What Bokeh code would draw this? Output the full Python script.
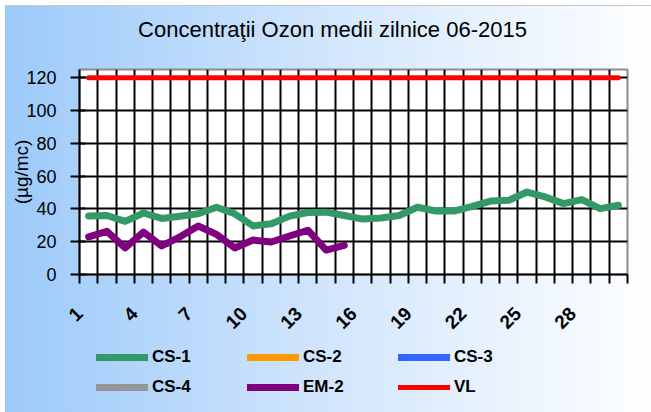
import math
from bokeh.plotting import figure
from bokeh.layouts import column
from bokeh.models import FixedTicker, Legend, LegendItem, Range1d, ColumnDataSource, Label
from bokeh.embed import file_html
from bokeh.resources import INLINE

# ---------------- data ----------------
days = list(range(1, 31))
cs1 = [35.7, 36.0, 32.4, 37.5, 34.2, 35.5, 37.0, 41.0, 37.0, 29.6,
       31.0, 35.6, 37.8, 38.0, 36.0, 33.8, 34.5, 36.0, 41.0, 38.7,
       38.7, 41.6, 44.8, 45.2, 50.3, 47.3, 43.2, 45.7, 40.2, 42.2]
em2_days = list(range(1, 16))
em2 = [23.0, 26.3, 16.2, 25.9, 17.4, 23.0, 29.6, 24.5, 16.2, 21.0,
       19.8, 23.5, 27.0, 14.8, 17.8]
vl = [120] * 30
x_label_days = [1, 4, 7, 10, 13, 16, 19, 22, 25, 28]
y_ticks = [0, 20, 40, 60, 80, 100, 120]
title_text = "Concentraţii Ozon medii zilnice 06-2015"
y_title = "(µg/mc)"
series_names = ["CS-1", "CS-2", "CS-3", "CS-4", "EM-2", "VL"]
series_colors = ["#339966", "#ff9900", "#3366ff", "#969696", "#800080", "#ff0000"]
series_widths = [7, 7, 7, 7, 7, 5]

# ---------------- layout ----------------
W = 651
TITLE_H, MAIN_H, LEG_H = 50, 280, 82
FL, FT, FW, FH = 79, 19, 548, 205
FONT = "Liberation Sans"
GRAD = "linear-gradient(to right, #9ccafa 0%, #d2e6fc 50%, #ffffff 100%)"


def strip(h, top_pad):
    # the column aligns frames, so the strip's frame spans the chart's frame width:
    # its x range is set so that data x equals page x
    f = figure(width=W, height=h, x_range=Range1d(FL, FL + FW), y_range=Range1d(0, h),
               min_border_left=FL, min_border_right=W - FL - FW,
               min_border_top=0, min_border_bottom=0,
               x_axis_location=None, y_axis_location=None, title_location=None,
               output_backend="svg", toolbar_location=None,
               background_fill_color=None, border_fill_color=None, outline_line_color=None)
    f.grid.visible = False
    bg = f"{GRAD} 5px {top_pad}px / 100% 100% no-repeat, #ffffff"
    if top_pad:
        bg = "linear-gradient(#c8c8c8, #c8c8c8) 5px 5px / 100% 1px no-repeat, " + bg
    f.styles = {"background": bg}
    return f


# ---- title strip ----
pt = strip(TITLE_H, 5)
pt.add_layout(Label(x=332, y=21, text=title_text, text_align="center",
                    text_baseline="alphabetic", text_font=FONT, text_font_size="22px",
                    text_color="black"))

# ---- main chart ----
p = figure(frame_width=FW, frame_height=FH,
           min_border_left=FL, min_border_top=FT,
           min_border_right=W - FL - FW, min_border_bottom=MAIN_H - FT - FH,
           x_range=Range1d(0.5, 30.5), y_range=Range1d(0, 125),
           title_location=None,
           output_backend="svg", toolbar_location=None,
           background_fill_color="white", border_fill_color=None,
           outline_line_color="#8c8c8c", outline_line_width=2)
p.styles = {"background": f"{GRAD} 5px 0px / 100% 100% no-repeat, #ffffff"}

boundaries = [d - 0.5 for d in days] + [days[-1] + 0.5]
p.xgrid.ticker = FixedTicker(ticks=boundaries)
p.ygrid.ticker = FixedTicker(ticks=y_ticks)
for g in (p.xgrid[0], p.ygrid[0]):
    g.grid_line_color = "black"
    g.grid_line_width = 2
    g.grid_line_alpha = 1

# x axis: rotated labels anchored at the left edge of their category, as in the original
label_pos = [d - 0.5 for d in x_label_days]
xa = p.xaxis[0]
xa.ticker = FixedTicker(ticks=label_pos, minor_ticks=boundaries)
xa.major_label_overrides = {pos: str(d) for pos, d in zip(label_pos, x_label_days)}
xa.major_tick_in = 0
xa.major_tick_out = 0
xa.minor_tick_in = 0
xa.minor_tick_out = 9
xa.minor_tick_line_color = "black"
xa.minor_tick_line_width = 2
xa.axis_line_color = "black"
xa.axis_line_width = 2
xa.major_label_orientation = math.pi / 4
xa.major_label_standoff = 27
xa.major_label_text_font = FONT
xa.major_label_text_font_size = "19px"
xa.major_label_text_font_style = "bold"
xa.major_label_text_color = "black"

ya = p.yaxis[0]
ya.ticker = FixedTicker(ticks=y_ticks)
ya.major_tick_in = 6
ya.major_tick_out = 9
ya.major_tick_line_color = "black"
ya.major_tick_line_width = 2
ya.minor_tick_line_color = None
ya.axis_line_color = "black"
ya.axis_line_width = 2
ya.major_label_standoff = 14
ya.major_label_text_font = FONT
ya.major_label_text_font_size = "18px"
ya.major_label_text_color = "black"
ya.axis_label = y_title
ya.axis_label_standoff = -9
ya.axis_label_text_font = FONT
ya.axis_label_text_font_size = "19px"
ya.axis_label_text_font_style = "normal"
ya.axis_label_text_color = "black"

data_x = [days, [], [], [], em2_days, days]
data_y = [cs1, [], [], [], em2, vl]
for xs, ys, c, w in zip(data_x, data_y, series_colors, series_widths):
    p.line("x", "y", source=ColumnDataSource(dict(x=xs, y=ys)), line_color=c, line_width=w,
           line_cap="round", line_join="round")

# ---- legend strip ----
pl = strip(LEG_H, 0)
nan = float("nan")
leg_renderers = [pl.line(x=[nan], y=[nan], line_color=c, line_width=w, line_cap="round")
                 for c, w in zip(series_colors, series_widths)]
legend = Legend(items=[LegendItem(label=n, renderers=[r]) for n, r in zip(series_names, leg_renderers)],
                orientation="horizontal", ncols=3, location=(96 - FL, 22),
                glyph_width=52, glyph_height=20, label_height=20, label_width=85,
                label_standoff=4, spacing=10, padding=0, margin=0,
                border_line_color=None, background_fill_alpha=0,
                label_text_font=FONT, label_text_font_size="17px",
                label_text_font_style="bold", label_text_color="black")
pl.add_layout(legend)

layout = column(pt, p, pl, spacing=0)
open("out.html", "w").write(file_html(layout, INLINE))
